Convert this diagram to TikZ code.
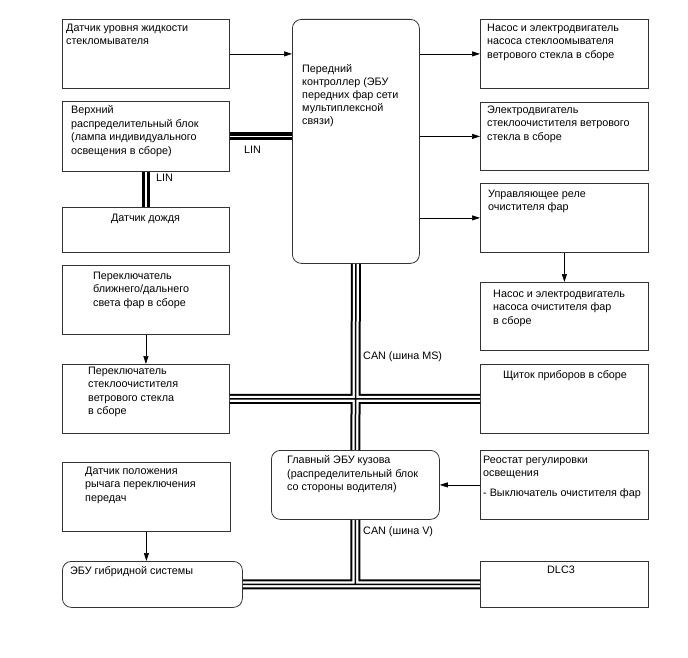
\documentclass[tikz,border=0pt]{standalone}
\usepackage{fontspec}
\setmainfont{Liberation Sans}
\usetikzlibrary{arrows.meta,calc}
\newcommand\mycanbus[1]{\draw[#1] (ctrl.south) -- (ecu.north) (l5.east) -- (r5.west) (ecu.south) -- (ecu.south |- hyb.east) (hyb.east) -- (dlc.west);}
\newcommand\mylinbus[1]{\draw[#1] (b2.east) -- (b2.east -| ctrl.west) (b2.south) -- (b3.north);}
\begin{document}
\begin{tikzpicture}[x=1pt,y=-1pt,
  bx/.style={draw=black!80, line width=0.8pt, inner sep=0pt, anchor=north west},
  rbx/.style={bx, rounded corners=9pt},
  txt/.style={font=\fontsize{10.8}{13.5}\selectfont, align=left, inner sep=0pt, anchor=north west},
  ctxt/.style={txt, align=center, anchor=north},
  arr/.style={line width=0.7pt, -{Triangle[length=8pt,width=5pt]}},
  lbl/.style={font=\fontsize{10.8}{13.5}\selectfont, inner sep=0pt, anchor=west},
]
\useasboundingbox (0,0) rectangle (688,658);
% boxes
\node[bx, minimum width=167, minimum height=69] (b1) at (62,19) {};
\node[bx, minimum width=167, minimum height=70] (b2) at (62,101) {};
\node[bx, minimum width=167, minimum height=45] (b3) at (62,207) {};
\node[rbx, minimum width=127, minimum height=244] (ctrl) at (292,19) {};
\node[bx, minimum width=168, minimum height=69] (r1) at (480,19) {};
\node[bx, minimum width=168, minimum height=68] (r2) at (480,102) {};
\node[bx, minimum width=168, minimum height=69] (r3) at (480,183) {};
\node[bx, minimum width=168, minimum height=68] (r4) at (480,282) {};
\node[bx, minimum width=167, minimum height=69] (l4) at (62,265) {};
\node[bx, minimum width=167, minimum height=69] (l5) at (62,364) {};
\node[bx, minimum width=168, minimum height=69] (r5) at (480,364) {};
\node[rbx, minimum width=168, minimum height=69] (ecu) at (271,450) {};
\node[bx, minimum width=168, minimum height=69] (r6) at (480,450) {};
\node[bx, minimum width=168, minimum height=69] (l7) at (62,462) {};
\node[rbx, minimum width=180, minimum height=46] (hyb) at (62,561) {};
\node[bx, minimum width=168, minimum height=46] (dlc) at (480,561) {};
% texts
\node[txt] (t1) at (66,23.5) {Датчик уровня жидкости\\стекломывателя};
\node[txt] (t2) at (71,105.5) {Верхний\\распределительный блок\\(лампа индивидуального\\освещения в сборе)};
\node[ctxt] (t3) at (145.5,213.5) {Датчик дождя};
\node[txt, font=\fontsize{10.8}{13}\selectfont] (tc) at (302,64.5) {Передний\\контроллер (ЭБУ\\передних фар сети\\мультиплексной\\связи)};
\node[txt] (tr1) at (487,23.5) {Насос и электродвигатель\\насоса стеклоомывателя\\ветрового стекла в сборе};
\node[txt] (tr2) at (487,105.5) {Электродвигатель\\стеклоочистителя ветрового\\стекла в сборе};
\node[txt] (tr3) at (488,189.5) {Управляющее реле\\очистителя фар};
\node[txt] (tr4) at (493,289.5) {Насос и электродвигатель\\насоса очистителя фар\\в сборе};
\node[txt] (tl4) at (93,271.5) {Переключатель\\ближнего/дальнего\\света фар в сборе};
\node[txt] (tl5) at (88,366.5) {Переключатель\\стеклоочистителя\\ветрового стекла\\в сборе};
\node[ctxt] (tr5) at (565,370.5) {Щиток приборов в сборе};
\node[txt] (tecu) at (287,455.5) {Главный ЭБУ кузова\\(распределительный блок\\со стороны водителя)};
\node[txt] (tr6) at (483,455.5) {Реостат регулировки\\освещения\\[6.5pt]- Выключатель очистителя фар};
\node[txt] (tl7) at (85,466.5) {Датчик положения\\рычага переключения\\передач};
\node[txt] (thyb) at (70,566.5) {ЭБУ гибридной системы};
\node[ctxt] (tdlc) at (561,566) {DLC3};
% buses
\mycanbus{line width=10pt}
\mycanbus{white, line width=6pt}
\mycanbus{line width=1.5pt}
\mylinbus{line width=8pt}
\mylinbus{white, line width=1.5pt}
% arrows
\draw[arr] (b1.east) -- (b1.east -| ctrl.west);
\draw[arr] (r1.west -| ctrl.east) -- (r1.west);
\draw[arr] (r2.west -| ctrl.east) -- (r2.west);
\draw[arr] (r3.west -| ctrl.east) -- (r3.west);
\draw[arr] (r3.south) -- (r4.north);
\draw[arr] (l4.south) -- (l5.north);
\draw[arr] (r6.west) -- (r6.west -| ecu.east);
\draw[arr] (l7.south) -- (l7.south |- hyb.north);
% labels
\node[lbl] (linh) at (244,150) {LIN};
\node[lbl] (linv) at (156,178) {LIN};
\node[lbl] (canms) at (363,357) {CAN (шина MS)};
\node[lbl] (canv) at (363,532) {CAN (шина V)};
\end{tikzpicture}
\end{document}
